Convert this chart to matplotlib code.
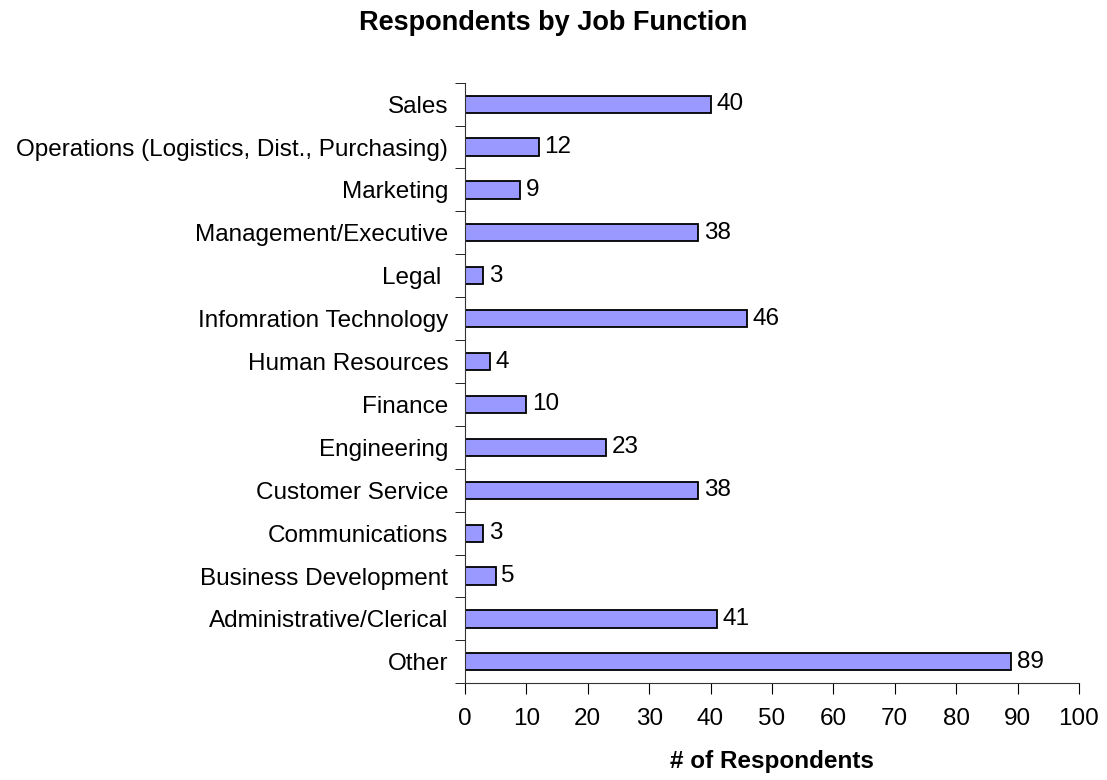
import matplotlib
matplotlib.use('Agg')
import matplotlib.pyplot as plt
import numpy as np

plt.rcParams['font.family'] = ['Liberation Sans', 'DejaVu Sans']

# job functions, bottom to top as drawn
functions = ['Other', 'Administrative/Clerical', 'Business Development',
             'Communications', 'Customer Service', 'Engineering', 'Finance',
             'Human Resources', 'Infomration Technology', 'Legal ',
             'Management/Executive', 'Marketing',
             'Operations (Logistics, Dist., Purchasing)', 'Sales']
counts = [89, 41, 5, 3, 38, 23, 10, 4, 46, 3, 38, 9, 12, 40]
xticks = [0, 10, 20, 30, 40, 50, 60, 70, 80, 90, 100]

fs = 17.5

fig = plt.figure(figsize=(11.07, 7.8), dpi=100)
ax = fig.add_axes([0.42, 0.124, 0.5547, 0.77])

y = np.arange(len(functions))
ax.barh(y, counts, height=0.4, color='#9999FF', edgecolor='black', linewidth=1.3)

for yi, v in zip(y, counts):
    ax.text(v + 0.9, yi, str(v), va='center', ha='left', fontsize=fs)

ax.set_xlim(0, 100)
ax.set_ylim(-0.5, len(functions) - 0.5)
ax.set_xticks(xticks)
ax.tick_params(axis='x', labelsize=fs, length=8, direction='out', pad=10)

# category labels without ticks; tick marks sit between categories
ax.set_yticks(y)
ax.set_yticklabels(functions, fontsize=fs)
ax.tick_params(axis='y', length=0, pad=12)
ax.set_yticks(np.arange(-0.5, len(functions), 1.0), minor=True)
ax.tick_params(axis='y', which='minor', length=7, direction='out')

for s in ['top', 'right']:
    ax.spines[s].set_visible(False)
for s in ['left', 'bottom']:
    ax.spines[s].set_linewidth(0.8)
    ax.spines[s].set_color('#333333')

ax.set_xlabel('# of Respondents', fontsize=fs, fontweight='bold', labelpad=14)
fig.text(0.5, 0.971, 'Respondents by Job Function', ha='center', va='center',
         fontsize=19.5, fontweight='bold')

fig.savefig('out.png', dpi=100)
